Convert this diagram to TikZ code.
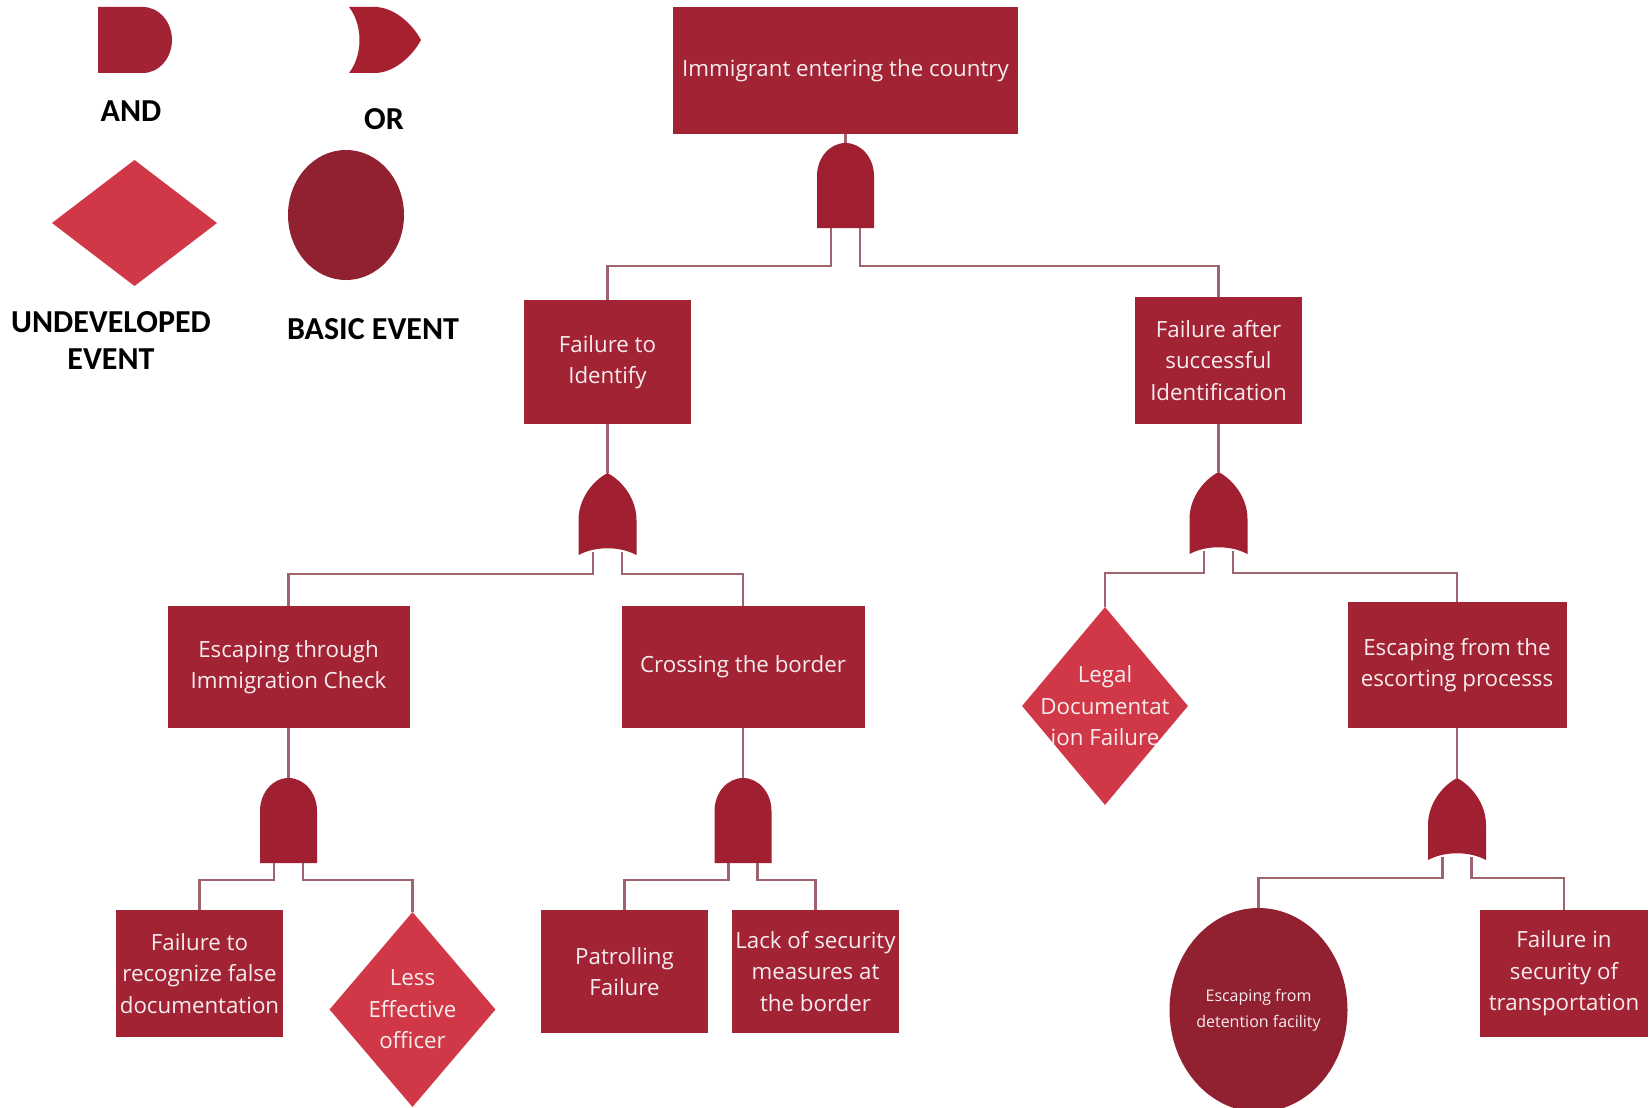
\documentclass[tikz,border=0pt]{standalone}
\usepackage{fontspec}
\setmainfont{Open Sans}
\newfontfamily\legfont{Carlito}
\usetikzlibrary{shapes.geometric}
\definecolor{boxred}{RGB}{162,35,52}
\definecolor{diared}{RGB}{208,56,72}
\definecolor{circred}{RGB}{145,32,48}
\definecolor{gatered}{RGB}{160,32,50}
\definecolor{linec}{RGB}{160,100,110}
\definecolor{txt}{RGB}{246,236,238}
\tikzset{
  andgate/.pic={
    \fill[gatered] (-28.5,85) -- (-28.5,33) .. controls (-28.5,14.8) and (-15.7,0) .. (0,0)
      .. controls (15.7,0) and (28.5,14.8) .. (28.5,33) -- (28.5,85) -- cycle;
    \coordinate (-t) at (0,0);
    \coordinate (-l) at (-14.5,85);
    \coordinate (-r) at (14.5,85);
  },
  orgate/.pic={
    \fill[gatered] (0,0) .. controls (15,8) and (29,26) .. (29,47) -- (29,82)
      .. controls (12,73) and (-12,73) .. (-29,82) -- (-29,47)
      .. controls (-29,26) and (-15,8) .. (0,0) -- cycle;
    \coordinate (-t) at (0,0);
    \coordinate (-l) at (-14.5,78.5);
    \coordinate (-r) at (14.5,78.5);
  },
  evtext/.style={text=txt, align=center, font=\fontsize{22.3}{31.5}\selectfont},
  evbox/.style={rectangle, fill=boxred, inner sep=0pt, evtext},
  undev/.style={diamond, fill=diared, inner sep=0pt},
  basic/.style={ellipse, fill=circred, inner sep=0pt, text=txt, align=center,
    font=\fontsize{16}{26}\selectfont},
  conn/.style={draw=linec, line width=2.2pt},
  legtxt/.style={font=\legfont\bfseries\fontsize{32}{37}\selectfont, align=center, text=black}
}
\begin{document}
\begin{tikzpicture}[x=1pt,y=-1pt]
\useasboundingbox (0,0) rectangle (1649,1108);
\fill[white] (0,0) rectangle (1649,1108);

% ---------- legend ----------
\fill[boxred] (98,7) -- (143,7) .. controls (159,7) and (172,22) .. (172,40)
  .. controls (172,58) and (159,73) .. (143,73) -- (98,73) -- cycle;
\node[legtxt] (andlbl) at (131,111) {AND};
\fill[boxred!95!red] (349,7) -- (377,7) .. controls (398,9) and (414,27) .. (421,40)
  .. controls (414,53) and (398,71) .. (377,73) -- (349,73)
  .. controls (363,55) and (363,25) .. (349,7) -- cycle;
\node[legtxt] (orlbl) at (384,119) {OR};
\fill[diared] (52,223) -- (134.5,160) -- (217,223) -- (134.5,286) -- cycle;
\node[legtxt] (undevlbl) at (111,341) {UNDEVELOPED\\EVENT};
\fill[circred] (346,215) ellipse [x radius=58, y radius=65];
\node[legtxt] (basiclbl) at (373,329) {BASIC EVENT};

% ---------- events ----------
\node[evbox, minimum width=345pt, minimum height=127pt] (top) at (845.5,70.5) {Immigrant entering the country};
\node[evbox, minimum width=167pt, minimum height=124pt] (fti) at (607.5,362) {Failure to\\Identify};
\node[evbox, minimum width=167pt, minimum height=127pt] (fas) at (1218.5,360.5) {Failure after\\successful\\Identification};
\node[evbox, minimum width=242pt, minimum height=122pt] (eic) at (288.5,667) {Escaping through\\Immigration Check};
\node[evbox, minimum width=243pt, minimum height=122pt] (ctb) at (743,667) {Crossing the border};
\node[undev, minimum width=166pt, minimum height=198pt,
  label={[evtext]center:{Legal\\Documentat\\ion Failure}}] (ldf) at (1105,706) {};
\node[evbox, minimum width=219pt, minimum height=126pt] (efe) at (1457,665) {Escaping from the\\escorting processs};
\node[evbox, minimum width=167pt, minimum height=127pt] (ftr) at (199.5,973.5) {Failure to\\recognize false\\documentation};
\node[undev, minimum width=166pt, minimum height=195pt,
  label={[evtext]center:{Less\\Effective\\officer}}] (leo) at (412.5,1009.5) {};
\node[evbox, minimum width=167pt, minimum height=123pt] (pf) at (624.5,971.5) {Patrolling\\Failure};
\node[evbox, minimum width=167pt, minimum height=123pt] (lsm) at (815.5,971.5) {Lack of security\\measures at\\the border};
\node[basic, minimum width=178pt, minimum height=204pt] (edf) at (1258.5,1010) {Escaping from\\detention facility};
\node[evbox, minimum width=168pt, minimum height=127pt] (fst) at (1564,973.5) {Failure in\\security of\\transportation};

% ---------- gates ----------
\pic (g0) at (845.5,143) {andgate};
\pic (g1) at (607.5,473) {orgate};
\pic (g2) at (1218.5,472) {orgate};
\pic (g3) at (288.5,778) {andgate};
\pic (g4) at (743,778) {andgate};
\pic (g5) at (1457,778) {orgate};

% ---------- connectors ----------
\draw[conn] (top.south) -- (g0-t);
\draw[conn] (g0-l) -- ++(0,38) -| (fti.north);
\draw[conn] (g0-r) -- ++(0,38) -| (fas.north);

\draw[conn] (fti.south) -- (g1-t);
\draw[conn] (g1-l) -- ++(0,22.5) -| (eic.north);
\draw[conn] (g1-r) -- ++(0,22.5) -| (ctb.north);

\draw[conn] (fas.south) -- (g2-t);
\draw[conn] (g2-l) -- ++(0,22.5) -| (ldf.north);
\draw[conn] (g2-r) -- ++(0,22.5) -| (efe.north);

\draw[conn] (eic.south) -- (g3-t);
\draw[conn] (g3-l) -- ++(0,17) -| (ftr.north);
\draw[conn] (g3-r) -- ++(0,17) -| (leo.north);

\draw[conn] (ctb.south) -- (g4-t);
\draw[conn] (g4-l) -- ++(0,17) -| (pf.north);
\draw[conn] (g4-r) -- ++(0,17) -| (lsm.north);

\draw[conn] (efe.south) -- (g5-t);
\draw[conn] (g5-l) -- ++(0,21.5) -| (edf.north);
\draw[conn] (g5-r) -- ++(0,21.5) -| (fst.north);
\end{tikzpicture}
\end{document}
